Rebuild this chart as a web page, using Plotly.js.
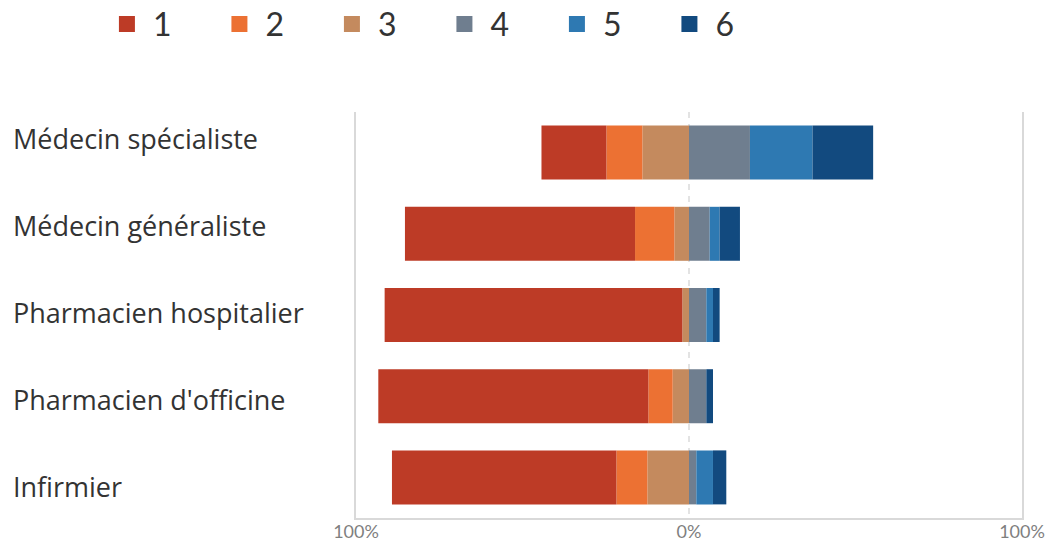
<!DOCTYPE html>
<html>
<head>
<meta charset="utf-8">
<script src="https://cdn.plot.ly/plotly-3.0.1.min.js"></script>
<style>html,body{margin:0;padding:0;background:#fff;}#chart{width:1052px;height:541px;}</style>
</head>
<body>
<div id="chart"></div>
<script>
// Categories (top to bottom)
const categories = ["Médecin spécialiste", "Médecin généraliste", "Pharmacien hospitalier", "Pharmacien d'officine", "Infirmier"];
// Series values in percent of respondents (1-3 drawn to the left, 4-6 to the right)
const s1 = [19.5, 69.1, 89.4, 81.1, 67.4];
const s2 = [10.8, 11.8, 0.0, 7.3, 9.3];
const s3 = [14.0, 4.4, 2.0, 4.9, 12.5];
const s4 = [18.3, 6.2, 5.2, 5.2, 2.2];
const s5 = [18.8, 3.0, 2.0, 0.0, 5.0];
const s6 = [18.2, 6.1, 2.0, 2.0, 4.0];
const seriesNames = ["1", "2", "3", "4", "5", "6"];
const tickVals = [-100, 0, 100];
const tickText = ["100%", "0%", "100%"];

const colors = ["#BD3B26", "#EC7133", "#C48A5E", "#6F7E8F", "#2E79B2", "#124A7F"];
const series = [s1, s2, s3, s4, s5, s6];
const neg = [true, true, true, false, false, false];
const drawOrder = [2, 1, 0, 3, 4, 5];

const traces = [];
drawOrder.forEach(function (k) {
  traces.push({
    type: "bar",
    orientation: "h",
    name: seriesNames[k],
    y: categories,
    x: series[k].map(function (v) { return neg[k] ? -v : v; }),
    marker: { color: colors[k], line: { width: 0 } },
    showlegend: false,
    legendgroup: seriesNames[k],
    hovertemplate: "%{y}: " + "%{customdata}%<extra>" + seriesNames[k] + "</extra>",
    customdata: series[k]
  });
});
// legend entries
seriesNames.forEach(function (n, k) {
  traces.push({
    type: "scatter",
    mode: "markers",
    x: [null],
    y: [null],
    name: n,
    legendgroup: n,
    legendrank: k + 1,
    marker: { symbol: "square", size: 16, color: colors[k] },
    hoverinfo: "skip"
  });
});

const labelFont = { family: "'Open Sans', Lato, sans-serif", size: 27, color: "#333333" };
const annotations = categories.map(function (c, i) {
  return {
    text: c,
    xref: "paper",
    x: -0.518,
    xanchor: "left",
    yref: "y",
    y: c,
    yanchor: "middle",
    yshift: 14.5 - 5.85 * i,
    showarrow: false,
    font: labelFont
  };
});

const layout = {
  width: 1052,
  height: 541,
  margin: { l: 356, r: 30, t: 112, b: 23, pad: 0, autoexpand: false },
  paper_bgcolor: "#ffffff",
  plot_bgcolor: "#ffffff",
  barmode: "relative",
  bargap: 0.335,
  showlegend: true,
  legend: {
    orientation: "h",
    xref: "paper",
    x: -0.383,
    xanchor: "left",
    yref: "paper",
    y: 1.284,
    yanchor: "top",
    itemwidth: 42,
    entrywidth: 55.5,
    entrywidthmode: "pixels",
    font: { family: "Lato, 'Open Sans', sans-serif", size: 32, color: "#333333" },
    traceorder: "normal",
    bgcolor: "rgba(0,0,0,0)"
  },
  xaxis: {
    range: [-100, 100],
    tickvals: tickVals,
    ticktext: tickText,
    ticks: "",
    ticklabelstandoff: -4,
    showgrid: true,
    gridcolor: "#e3e3e3",
    gridwidth: 1.5,
    griddash: "6px,6px",
    zeroline: false,
    showline: true,
    linecolor: "#d9d9d9",
    linewidth: 2,
    tickfont: { family: "Lato, 'Open Sans', sans-serif", size: 18, color: "#7f7f7f" },
    fixedrange: true
  },
  yaxis: {
    type: "category",
    categoryorder: "array",
    categoryarray: categories,
    autorange: "reversed",
    showticklabels: false,
    ticks: "",
    showgrid: false,
    zeroline: false,
    showline: true,
    mirror: true,
    linecolor: "#d9d9d9",
    linewidth: 1.5,
    fixedrange: true
  },
  annotations: annotations,
  hovermode: "closest"
};

Plotly.newPlot("chart", traces, layout, { displayModeBar: false, responsive: false });
</script>
</body>
</html>
